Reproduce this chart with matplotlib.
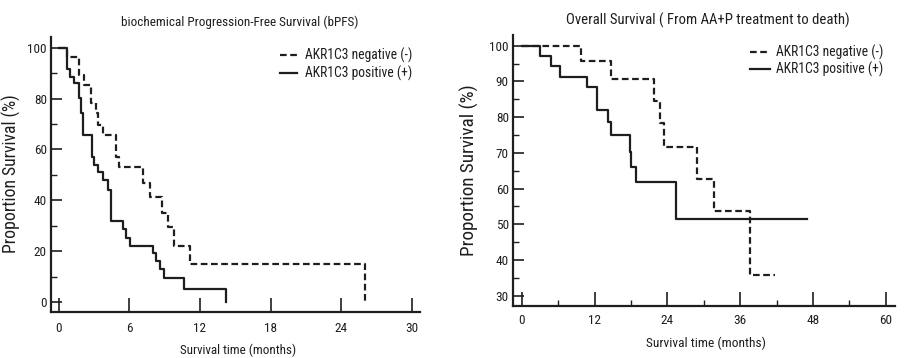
import matplotlib
matplotlib.use("Agg")
import matplotlib.pyplot as plt
from matplotlib import font_manager
from matplotlib.ticker import MultipleLocator
from matplotlib.lines import Line2D

# ---------------- data ----------------
series_labels = ["AKR1C3 negative (-)", "AKR1C3 positive (+)"]

# bPFS panel
bpfs_neg_t = [0, 0.73, 1.72, 2.17, 2.72, 3.14, 3.34, 3.79, 4.84, 5.12, 7.13, 7.75, 8.8, 9.31, 9.79, 11.2, 26.06]
bpfs_neg_s = [100, 96.3, 89.3, 85.3, 78.1, 74.2, 69.6, 65.7, 57.1, 53.0, 46.9, 41.4, 35.1, 29.4, 22.0, 14.8, 0]
bpfs_pos_t = [0, 0.73, 0.96, 1.33, 1.72, 1.87, 2.04, 2.8, 3.0, 3.31, 3.79, 4.21, 4.45, 5.49, 5.71, 6.05, 8.03, 8.31, 8.6, 8.97, 10.64, 14.18]
bpfs_pos_s = [100, 91.5, 88.6, 86.0, 80.1, 74.2, 65.7, 56.9, 53.9, 51.0, 48.0, 44.0, 31.9, 28.6, 25.0, 22.0, 19.1, 16.1, 13.0, 9.6, 5.1, 0]

# OS panel
os_neg_t = [0, 9.84, 14.67, 21.76, 22.86, 23.4, 28.8, 31.65, 37.58, 41.7]
os_neg_s = [100, 95.8, 90.7, 84.5, 78.3, 71.7, 62.7, 53.8, 35.8, 35.8]
os_pos_t = [0, 3.08, 4.89, 6.26, 10.77, 12.47, 14.23, 14.67, 17.9, 18.0, 18.8, 25.5, 47.0]
os_pos_s = [100, 97.2, 94.3, 91.3, 88.3, 82.0, 78.7, 75.0, 70.3, 65.9, 61.7, 51.4, 51.4]

titles = ["biochemical Progression-Free Survival (bPFS)",
          "Overall Survival ( From AA+P treatment to death)"]
xlabel = "Survival time (months)"
ylabel = "Proportion Survival (%)"
bpfs_xticks = [0, 6, 12, 18, 24, 30]
bpfs_yticks = [0, 20, 40, 60, 80, 100]
os_xticks = [0, 12, 24, 36, 48, 60]
os_yticks = [30, 40, 50, 60, 70, 80, 90, 100]

# ---------------- font: prefer a narrow sans ----------------
fonts = font_manager.fontManager.ttflist
chosen = None
prefs = ["Liberation Sans Narrow", "Arial Narrow", "Roboto Condensed", "Open Sans Condensed"]
for p in prefs:
    for f in fonts:
        if f.name == p and f.style == "normal" and f.weight in (400, "normal", "regular"):
            chosen = f
            break
    if chosen:
        break
if chosen is None:
    for f in fonts:
        if f.name in ("DejaVu Sans", "Roboto", "Open Sans", "Noto Sans") and \
                str(f.stretch) in ("condensed", "semi-condensed") and f.style == "normal" and \
                f.weight in (400, "normal", "regular"):
            chosen = f
            break
if chosen is not None:
    font_manager.fontManager.addfont(chosen.fname)
    plt.rcParams["font.family"] = [chosen.name, "DejaVu Sans"]
    if str(chosen.stretch) != "normal":
        plt.rcParams["font.stretch"] = chosen.stretch
else:
    plt.rcParams["font.family"] = ["Liberation Sans", "DejaVu Sans"]

ink = "#1e1e1e"
W, H = 910, 358
fig = plt.figure(figsize=(W/100, H/100), dpi=100)

def fx(px):
    return px / W

def fy(py):
    return 1 - py / H

axL = fig.add_axes([fx(51), fy(312), (420-51)/W, (312-37)/H])
axR = fig.add_axes([fx(513), fy(306), (895-513)/W, (306-35)/H])

def style(ax, xlim, ylim, xt, yt, xminor, yminor, xpad, ypad):
    ax.set_xlim(*xlim)
    ax.set_ylim(*ylim)
    ax.set_xticks(xt)
    ax.set_yticks(yt)
    if xminor:
        ax.xaxis.set_minor_locator(MultipleLocator(xminor))
    ax.yaxis.set_minor_locator(MultipleLocator(yminor))
    for s in ["top", "right"]:
        ax.spines[s].set_visible(False)
    for s in ["left", "bottom"]:
        ax.spines[s].set_linewidth(1.6)
        ax.spines[s].set_color(ink)
    ax.tick_params(axis="x", which="major", direction="in", length=10, width=1.2, colors=ink, labelsize=11, pad=xpad)
    ax.tick_params(axis="x", which="minor", direction="in", length=4, width=1.0, colors=ink)
    ax.tick_params(axis="y", which="major", direction="in", length=8, width=1.2, colors=ink, labelsize=11, pad=ypad)
    ax.tick_params(axis="y", which="minor", direction="in", length=4, width=1.0, colors=ink)

dash = (0, (3.0, 1.6))
lw = 1.6

axL.step(bpfs_neg_t, bpfs_neg_s, where="post", color=ink, lw=lw, ls=dash)
axL.step(bpfs_pos_t, bpfs_pos_s, where="post", color=ink, lw=lw, ls="-")
style(axL, (-0.65, 30.7), (-3.9, 104.2), bpfs_xticks, bpfs_yticks, None, 10, 7.0, 3)

axR.step(os_neg_t, os_neg_s, where="post", color=ink, lw=lw, ls=dash)
axR.step(os_pos_t, os_pos_s, where="post", color=ink, lw=lw, ls="-")
style(axR, (-1.43, 61.5), (27.1, 103.0), os_xticks, os_yticks, 6, 5, 6.0, 3)

texts = []  # (text artist, target width px)
GROW = 1.06  # font is a little wider per height than the reference's

def put(x, y, s, target_w, rot=0, ha="center", va="center"):
    t = fig.text(fx(x), fy(y), s, ha=ha, va=va, rotation=rot, color=ink, fontsize=11)
    texts.append((t, target_w * GROW, rot))
    return t

# titles
put(239.5, 22, titles[0], 225)
put(708, 20, titles[1], 267)
# x labels
put(238, 350, xlabel, 109)
put(706, 343.5, xlabel, 112)
# y labels
put(11.5, 173.5, ylabel, 150, rot=90)
put(469, 170, ylabel, 162, rot=90)

# legends (manual placement)
leg_specs = [
    (280, 297, 305, [55, 73], 101),
    (750, 770, 776, [52, 69], 101),
]
for x0, x1, tx, rows, tw in leg_specs:
    for row, lab, style_ in zip(rows, series_labels, [dash, "-"]):
        fig.add_artist(Line2D([fx(x0), fx(x1)], [fy(row), fy(row)], transform=fig.transFigure,
                              color=ink, lw=lw, ls=style_))
        put(tx, row, lab, tw, ha="left")

# fit text sizes to reference widths
fig.canvas.draw()
r = fig.canvas.get_renderer()
for t, tw, rot in texts:
    bb = t.get_window_extent(r)
    cur = bb.height if rot == 90 else bb.width
    t.set_fontsize(t.get_fontsize() * tw / cur)

# tick label size: "100" ~ 18.5 px wide
lab = axL.get_yticklabels()[-1]
bb = lab.get_window_extent(r)
ts = 11 * 18.5 * GROW / bb.width
for ax in (axL, axR):
    ax.tick_params(which="major", labelsize=ts)

fig.savefig("out.png", dpi=100, facecolor="white")
